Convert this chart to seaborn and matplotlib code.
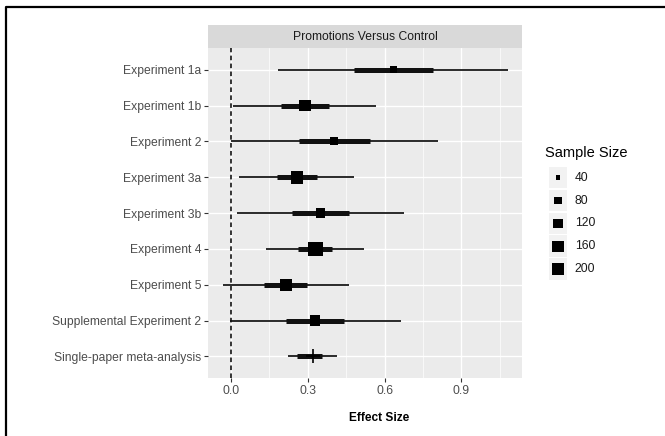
import numpy as np
import pandas as pd
import seaborn as sns
import matplotlib.pyplot as plt
from matplotlib.lines import Line2D
from matplotlib.patches import Rectangle

# data
studies = ["Experiment 1a", "Experiment 1b", "Experiment 2", "Experiment 3a",
           "Experiment 3b", "Experiment 4", "Experiment 5",
           "Supplemental Experiment 2", "Single-paper meta-analysis"]
effect = [0.634, 0.289, 0.402, 0.257, 0.350, 0.329, 0.214, 0.329, 0.321]
ci95_lo = [0.185, 0.009, -0.002, 0.032, 0.025, 0.137, -0.033, -0.004, 0.224]
ci95_hi = [1.083, 0.566, 0.810, 0.482, 0.677, 0.521, 0.460, 0.665, 0.415]
ci50_lo = [0.480, 0.194, 0.266, 0.181, 0.240, 0.263, 0.130, 0.214, 0.257]
ci50_hi = [0.788, 0.383, 0.543, 0.335, 0.462, 0.396, 0.298, 0.443, 0.354]
sample_n = [75, 175, 90, 200, 120, 270, 200, 140]   # meta-analysis has no size
legend_n = [40, 80, 120, 160, 200]
x_ticks = [0.0, 0.3, 0.6, 0.9]

W, H = 665, 436


def box(x0, y0, x1, y1):
    return [x0 / W, 1 - y1 / H, (x1 - x0) / W, (y1 - y0) / H]


def area(n):
    # square side grows like sqrt of a linear size scale (ggplot style)
    return 0.72 * (16 + (n - 40) * 0.6125)


sns.set_theme(style="darkgrid", rc={"axes.facecolor": "#EBEBEB",
                                    "grid.color": "white",
                                    "axes.edgecolor": "#EBEBEB"})
plt.rcParams['font.family'] = ['Liberation Sans', 'DejaVu Sans']

fig = plt.figure(figsize=(6.65, 4.36), dpi=100)
ax = fig.add_axes(box(208, 48.3, 522, 378))

pos = np.arange(len(studies))
df = pd.DataFrame({"study": studies, "pos": pos, "effect": effect,
                   "lo95": ci95_lo, "hi95": ci95_hi,
                   "lo50": ci50_lo, "hi50": ci50_hi})
df_exp = df.iloc[:len(sample_n)].copy()
df_exp["n"] = sample_n
df_meta = df.iloc[len(sample_n):]

ax.axvline(0, color="black", ls=(0, (3, 2.2)), lw=1.1, zorder=2)
ax.hlines(df["pos"], df["lo95"], df["hi95"], color="#111111", lw=1.25, zorder=3)
ax.hlines(df["pos"], df["lo50"], df["hi50"], color="#111111", lw=3.6, zorder=3)

sizes = {n: area(n) for n in sample_n}
sns.scatterplot(data=df_exp, x="effect", y="pos", size="n", sizes=sizes,
                marker="s", color="black", linewidth=0, legend=False,
                ax=ax, zorder=4)
sns.scatterplot(data=df_meta, x="effect", y="pos", marker="+", s=115,
                color="black", linewidth=1.2, ax=ax, zorder=4)

ax.set_xlim(-0.09, 1.137)
ax.set_ylim(8.6, -0.6)
ax.set_xticks(x_ticks)
ax.set_xticklabels([f"{t:.1f}" for t in x_ticks])
ax.set_xticks([0.15, 0.45, 0.75, 1.05], minor=True)
ax.set_yticks(pos)
ax.set_yticklabels(studies)
ax.grid(which="major", color="white", lw=1.0)
ax.grid(which="minor", axis="x", color="white", lw=0.5)
ax.tick_params(which="major", length=2.75, width=0.8, color="#333333",
               labelcolor="#4D4D4D", labelsize=8.7, pad=2,
               left=True, bottom=True)
ax.tick_params(which="minor", length=0)
for sp in ax.spines.values():
    sp.set_visible(False)
ax.set_ylabel("")
ax.set_xlabel("Effect Size", fontweight="bold", fontsize=8.6, color="black")
ax.xaxis.set_label_coords((379 - 208) / 314, -0.103)

# facet strip
sax = fig.add_axes(box(208, 25, 522, 48.3))
sax.set_facecolor("#D9D9D9")
sax.set_xticks([])
sax.set_yticks([])
sax.grid(False)
for sp in sax.spines.values():
    sp.set_visible(False)
sax.text(0.5, 0.5, "Promotions Versus Control", ha="center", va="center",
         fontsize=8.7, color="#1A1A1A", transform=sax.transAxes)

# size legend
fig.text(545 / W, 1 - 152.7 / H, "Sample Size", fontsize=10.5,
         va="center", ha="left", color="black")
lax = fig.add_axes(box(549, 166.3, 567, 280.4))
lax.set_xlim(0, 1)
lax.set_ylim(4.5, -0.5)
lax.axis("off")
for i, n in enumerate(legend_n):
    lax.add_patch(Rectangle((0, i - 0.47), 1, 0.94, facecolor="#F2F2F2",
                            edgecolor="none", zorder=1))
    lax.text(1.44, i, str(n), va="center", ha="left", fontsize=8.7,
             color="#1A1A1A", clip_on=False)
leg_df = pd.DataFrame({"x": [0.5] * len(legend_n), "y": range(len(legend_n)),
                       "n": legend_n})
sns.scatterplot(data=leg_df, x="x", y="y", size="n",
                sizes={n: area(n) for n in legend_n}, marker="s",
                color="black", linewidth=0, legend=False, ax=lax, zorder=2)
lax.set_xlim(0, 1)
lax.set_ylim(4.5, -0.5)

# outer frame
fig.add_artist(Line2D([6 / W, 6 / W, 1.0], [0, 1 - 7 / H, 1 - 7 / H],
                      transform=fig.transFigure, color="black", lw=1.6))

fig.savefig("out.png", dpi=100)
